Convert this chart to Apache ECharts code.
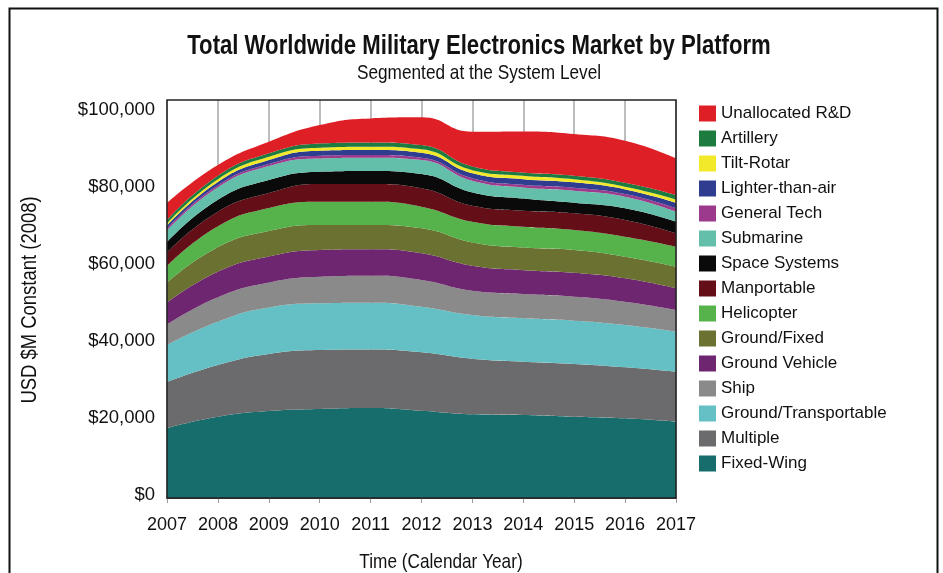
<!DOCTYPE html>
<html>
<head>
<meta charset="utf-8">
<style>
  html, body { margin: 0; padding: 0; background: #fff; }
  #chart { width: 943px; height: 573px; }
</style>
<script src="https://cdn.jsdelivr.net/npm/echarts@6/dist/echarts.min.js"></script>
</head>
<body>
<div id="chart"></div>
<script>
// Calendar years on the x axis
const years = ['2007', '2008', '2009', '2010', '2011', '2012', '2013', '2014', '2015', '2016', '2017'];

// Market size per platform, USD $M constant (2008), listed bottom of the stack first
const fixedWing           = [18180, 21120, 22600, 23120, 23380, 22680, 21740, 21560, 21120, 20700, 19820];
const multiple            = [11950, 13430, 14810, 15320, 15190, 15170, 14440, 13840, 13690, 13250, 12990];
const groundTransportable = [9610, 11250, 12080, 12130, 12160, 11840, 11350, 11270, 11250, 10990, 10390];
const ship                = [5320, 6360, 6490, 6910, 7010, 6940, 6300, 6300, 6230, 6050, 5640];
const groundVehicle       = [5710, 6620, 6750, 6940, 6860, 6940, 6490, 6230, 6230, 6080, 5640];
const groundFixed         = [5190, 6360, 6620, 6490, 6310, 6490, 6080, 5870, 5900, 5610, 5610];
const helicopter          = [4290, 5450, 5970, 6050, 6050, 5610, 5350, 5380, 5190, 5190, 5190];
const manportable         = [3510, 3770, 3900, 4600, 4600, 4780, 4160, 4160, 4340, 4340, 3480];
const spaceSystems        = [2730, 3120, 3380, 3190, 3380, 3710, 3480, 3190, 2750, 3040, 3010];
const submarine           = [2990, 3250, 3640, 3480, 3450, 3640, 3010, 2860, 3120, 3010, 2600];
const generalTech         = [520, 520, 520, 680, 700, 600, 700, 700, 780, 700, 910];
const lighterThanAir      = [780, 860, 1040, 1300, 1300, 1300, 1300, 1480, 1400, 1220, 1430];
const tiltRotar           = [520, 700, 860, 780, 860, 880, 780, 860, 780, 680, 830];
const artillery           = [910, 910, 880, 1140, 1140, 1120, 960, 860, 940, 1040, 1170];
const unallocatedRD       = [4420, 2780, 3010, 4750, 6230, 7190, 8990, 10650, 10830, 10910, 9530];

// Layer names, bottom to top, with their values and fill colours
const layers = [
  ['Fixed-Wing', fixedWing, '#176c6c'],
  ['Multiple', multiple, '#6b6b6d'],
  ['Ground/Transportable', groundTransportable, '#64c0c4'],
  ['Ship', ship, '#8a8a8a'],
  ['Ground Vehicle', groundVehicle, '#6f2670'],
  ['Ground/Fixed', groundFixed, '#6a7131'],
  ['Helicopter', helicopter, '#56b24a'],
  ['Manportable', manportable, '#640e17'],
  ['Space Systems', spaceSystems, '#0a0a0a'],
  ['Submarine', submarine, '#63bfa9'],
  ['General Tech', generalTech, '#9c3a8e'],
  ['Lighter-than-air', lighterThanAir, '#2e3d8f'],
  ['Tilt-Rotar', tiltRotar, '#f2e92a'],
  ['Artillery', artillery, '#1e7b40'],
  ['Unallocated R&D', unallocatedRD, '#df1f26']
];

const FONT = "'Liberation Sans', Arial, sans-serif";
const INK = '#111';
const NARROW = 0.82; // horizontal squeeze for the condensed headings

// Plot rectangle
const PL = 167, PT = 100, PR = 676, PB = 498;

const chart = echarts.init(document.getElementById('chart'), null, { renderer: 'canvas' });

const series = layers.map(([name, values, color]) => ({
  name,
  type: 'line',
  stack: 'total',
  smooth: 0.5,
  showSymbol: false,
  symbol: 'none',
  lineStyle: { width: 0 },
  areaStyle: { color, opacity: 1 },
  itemStyle: { color },
  emphasis: { disabled: true },
  data: values
}));

function money(v) {
  if (v % 20000 !== 0) return '';
  return '$' + v.toLocaleString('en-US');
}

function heading(text, x, y, size, weight, rotation) {
  return {
    type: 'text', x, y, rotation: rotation || 0, scaleX: NARROW, silent: true,
    style: { text, fontFamily: FONT, fontSize: size, fontWeight: weight, fill: INK, align: 'center', verticalAlign: 'middle' }
  };
}

chart.setOption({
  animation: false,
  backgroundColor: '#fff',
  textStyle: { fontFamily: FONT },
  legend: {
    orient: 'vertical',
    left: 699, top: 105,
    padding: 0,
    icon: 'rect',
    itemWidth: 17, itemHeight: 16, itemGap: 8,
    selectedMode: false,
    textStyle: { fontFamily: FONT, fontSize: 17, color: INK },
    data: layers.map(l => l[0]).reverse()
  },
  grid: { left: PL, top: PT, right: 943 - PR, bottom: 573 - PB, containLabel: false },
  xAxis: {
    type: 'category',
    data: years,
    boundaryGap: false,
    axisLine: { show: true, lineStyle: { color: '#111', width: 1.5 } },
    axisTick: { show: true, interval: 0, length: 5, lineStyle: { color: '#999', width: 1 } },
    axisLabel: { interval: 0, fontFamily: FONT, fontSize: 18, color: INK, margin: 18 },
    splitLine: { show: true, interval: 0, lineStyle: { color: '#bdbdbd', width: 2 } }
  },
  yAxis: {
    type: 'value',
    min: 0, max: 103400, interval: 20000,
    axisLine: { show: false },
    axisTick: { show: false },
    splitLine: { show: false },
    axisLabel: {
      fontFamily: FONT, fontSize: 18.5, color: INK, margin: 12,
      verticalAlign: 'bottom', lineHeight: 6,
      formatter: money
    }
  },
  graphic: [
    // outer frame
    { type: 'rect', left: 7, top: 6, shape: { width: 928, height: 600 }, style: { fill: 'none', stroke: '#111', lineWidth: 2 }, silent: true, z: 0 },
    // plot border drawn over the areas
    { type: 'rect', shape: { x: PL, y: PT, width: PR - PL, height: PB - PT }, style: { fill: 'none', stroke: '#222', lineWidth: 1.5 }, silent: true, z: 100 },
    heading('Total Worldwide Military Electronics Market by Platform', 479, 47, 27, 'bold'),
    heading('Segmented at the System Level', 479, 73, 21, 'normal'),
    heading('USD $M Constant (2008)', 30, 300, 22.5, 'normal', Math.PI / 2),
    heading('Time (Calendar Year)', 441, 562, 21, 'normal')
  ],
  series
});
</script>
</body>
</html>
